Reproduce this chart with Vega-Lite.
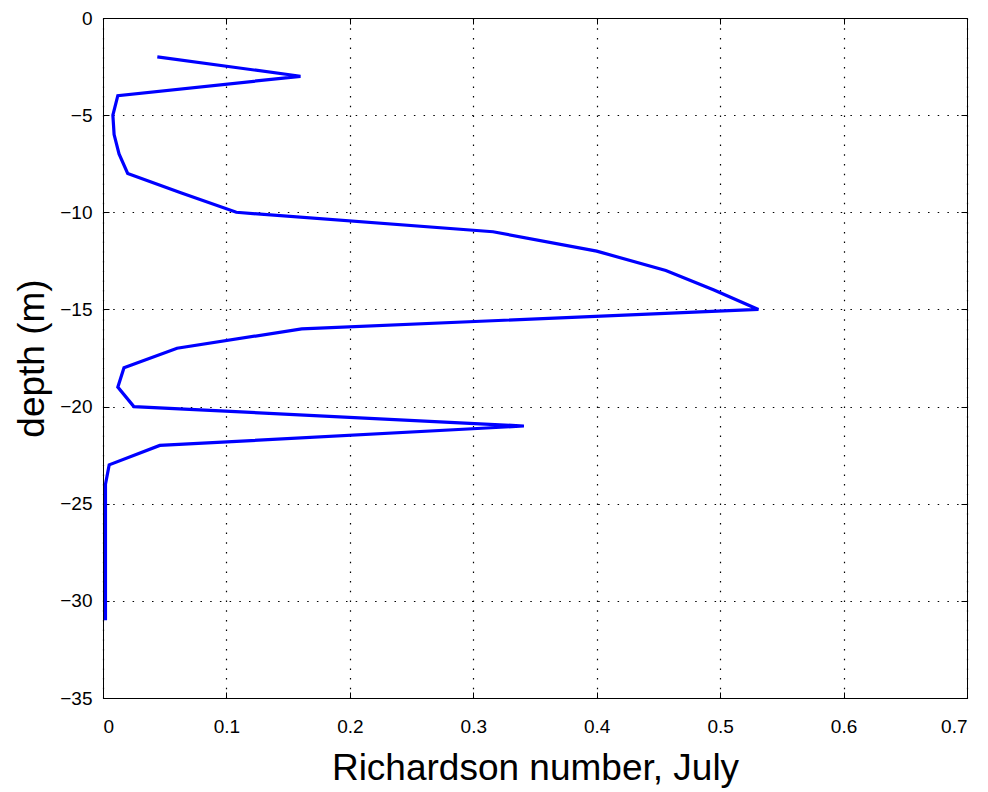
{
  "$schema": "https://vega.github.io/schema/vega-lite/v6.json",
  "width": 864,
  "height": 680,
  "autosize": {"type": "none"},
  "padding": {"left": 103, "top": 18, "right": 21, "bottom": 94},
  "background": "white",
  "config": {
    "view": {"stroke": "black", "strokeWidth": 1},
    "style": {"guide-label": {"fontSize": 19, "font": "Liberation Sans", "fill": "black"}},
    "axis": {
      "labelFont": "Liberation Sans",
      "titleFont": "Liberation Sans",
      "labelFontSize": 19,
      "labelColor": "black",
      "titleColor": "black",
      "titleFontWeight": "normal",
      "domainColor": "black",
      "tickColor": "black",
      "gridColor": "black",
      "gridDash": [1.5, 8.2],
      "gridWidth": 1.2,
      "gridOpacity": 1
    }
  },
  "data": {
    "values": [
      {"depth": -2, "ri": 0.044},
      {"depth": -3, "ri": 0.160},
      {"depth": -4, "ri": 0.012},
      {"depth": -5, "ri": 0.008},
      {"depth": -6, "ri": 0.009},
      {"depth": -7, "ri": 0.013},
      {"depth": -8, "ri": 0.020},
      {"depth": -9, "ri": 0.063},
      {"depth": -10, "ri": 0.108},
      {"depth": -11, "ri": 0.316},
      {"depth": -12, "ri": 0.400},
      {"depth": -13, "ri": 0.456},
      {"depth": -14, "ri": 0.495},
      {"depth": -15, "ri": 0.531},
      {"depth": -16, "ri": 0.161},
      {"depth": -17, "ri": 0.060},
      {"depth": -18, "ri": 0.017},
      {"depth": -19, "ri": 0.012},
      {"depth": -20, "ri": 0.025},
      {"depth": -21, "ri": 0.341},
      {"depth": -22, "ri": 0.046},
      {"depth": -23, "ri": 0.005},
      {"depth": -24, "ri": 0.002},
      {"depth": -25, "ri": 0.002},
      {"depth": -26, "ri": 0.002},
      {"depth": -27, "ri": 0.002},
      {"depth": -28, "ri": 0.002},
      {"depth": -29, "ri": 0.002},
      {"depth": -30, "ri": 0.002},
      {"depth": -31, "ri": 0.002}
    ]
  },
  "layer": [
    {
      "mark": {"type": "line", "color": "#0000ff", "strokeWidth": 3.2, "strokeJoin": "miter", "clip": true},
      "encoding": {
        "x": {
          "field": "ri", "type": "quantitative",
          "scale": {"domain": [0, 0.7], "nice": false, "zero": false},
          "axis": {
            "title": "Richardson number, July",
            "titleFontSize": 37,
            "labelFontSize": 19,
            "values": [0, 0.1, 0.2, 0.3, 0.4, 0.5, 0.6, 0.7],
            "format": ".1~f",
            "grid": true,
            "tickSize": -6,
            "labelPadding": 25,
            "titlePadding": 14
          }
        },
        "y": {
          "field": "depth", "type": "quantitative",
          "scale": {"domain": [-35, 0], "nice": false, "zero": false},
          "axis": {
            "title": "depth (m)",
            "titleFontSize": 37,
            "labelFontSize": 19,
            "values": [0, -5, -10, -15, -20, -25, -30, -35],
            "grid": true,
            "tickSize": -6,
            "labelPadding": 17,
            "titlePadding": 8
          }
        },
        "order": {"field": "depth", "sort": "descending"}
      }
    },
    {
      "mark": {"type": "line", "opacity": 0},
      "encoding": {
        "x": {
          "field": "ri", "type": "quantitative",
          "scale": {"domain": [0, 0.7], "nice": false, "zero": false},
          "axis": {"orient": "top", "title": null, "labels": false, "grid": false, "domain": false, "tickSize": -6, "values": [0, 0.1, 0.2, 0.3, 0.4, 0.5, 0.6, 0.7]}
        },
        "y": {
          "field": "depth", "type": "quantitative",
          "scale": {"domain": [-35, 0], "nice": false, "zero": false},
          "axis": {"orient": "right", "title": null, "labels": false, "grid": false, "domain": false, "tickSize": -6, "values": [0, -5, -10, -15, -20, -25, -30, -35]}
        }
      }
    }
  ],
  "resolve": {"scale": {"x": "independent", "y": "independent"}, "axis": {"x": "independent", "y": "independent"}}
}
